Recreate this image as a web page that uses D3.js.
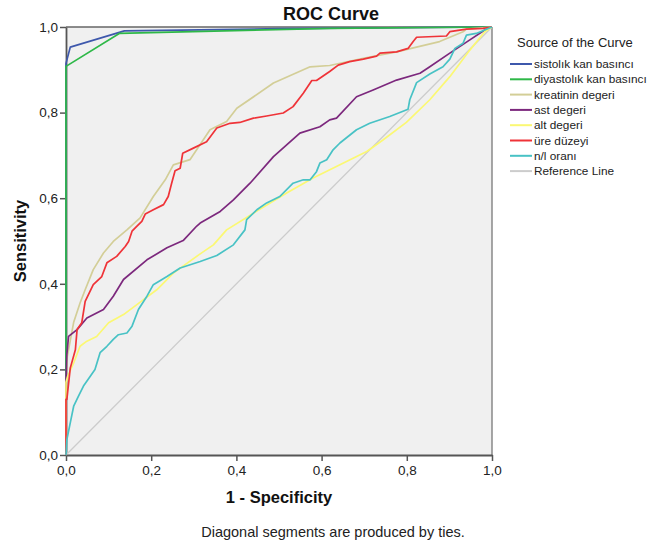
<!DOCTYPE html>
<html>
<head>
<meta charset="utf-8">
<script src="https://cdn.jsdelivr.net/npm/d3@7"></script>
<style>
  html, body { margin: 0; padding: 0; background: #fff; }
  svg { display: block; font-family: "Liberation Sans", Arial, sans-serif; }
</style>
</head>
<body>
<svg id="chart" width="662" height="546"></svg>
<script>
// ---- data ----
const seriesNames = ["sistolık kan basıncı", "diyastolık kan basıncı", "kreatinin degeri", "ast degeri", "alt degeri", "üre düzeyi", "n/l oranı", "Reference Line"];
const seriesColors = ["#3E58AC", "#2EB848", "#D3CE97", "#7C287D", "#FBF873", "#EF3338", "#48C2C5", "#CCCCCC"];

const sistolik = [[0,0],[0,0.915],[0.01,0.953],[0.137,0.991],[0.5,0.996],[1,1]];
const diyastolik = [[0,0],[0,0.908],[0.125,0.985],[0.62,0.997],[1,1]];
const kreatinin = [[0,0],[0,0.13],[0.003,0.23],[0.018,0.31],[0.033,0.355],[0.045,0.386],[0.064,0.433],[0.088,0.472],[0.111,0.499],[0.143,0.526],[0.174,0.554],[0.205,0.604],[0.233,0.643],[0.252,0.678],[0.291,0.69],[0.338,0.76],[0.377,0.779],[0.401,0.81],[0.487,0.869],[0.573,0.907],[0.619,0.91],[0.698,0.927],[0.776,0.942],[0.877,0.966],[0.932,0.989],[0.94,0.995],[1,1]];
const ast = [[0,0],[0,0.172],[0.002,0.235],[0.006,0.277],[0.026,0.293],[0.049,0.32],[0.088,0.34],[0.111,0.371],[0.135,0.41],[0.19,0.456],[0.237,0.484],[0.275,0.501],[0.307,0.535],[0.315,0.542],[0.362,0.569],[0.393,0.596],[0.432,0.635],[0.487,0.697],[0.549,0.752],[0.596,0.767],[0.619,0.783],[0.635,0.787],[0.682,0.837],[0.721,0.853],[0.776,0.876],[0.831,0.892],[0.854,0.907],[0.901,0.939],[0.948,0.97],[0.983,0.993],[1,1]];
const alt = [[0,0],[0,0.17],[0.004,0.184],[0.018,0.215],[0.033,0.254],[0.049,0.266],[0.072,0.277],[0.1,0.309],[0.135,0.328],[0.182,0.363],[0.213,0.386],[0.252,0.425],[0.315,0.47],[0.346,0.491],[0.377,0.526],[0.44,0.565],[0.518,0.612],[0.58,0.647],[0.643,0.678],[0.706,0.709],[0.744,0.736],[0.799,0.777],[0.854,0.83],[0.901,0.884],[0.948,0.946],[0.983,0.989],[1,1]];
const ure = [[0,0],[0,0.13],[0.002,0.13],[0.01,0.203],[0.022,0.246],[0.026,0.293],[0.037,0.309],[0.045,0.359],[0.064,0.398],[0.084,0.417],[0.096,0.449],[0.119,0.464],[0.139,0.487],[0.147,0.499],[0.155,0.523],[0.166,0.534],[0.178,0.546],[0.186,0.563],[0.205,0.573],[0.229,0.585],[0.24,0.604],[0.248,0.635],[0.256,0.664],[0.268,0.67],[0.274,0.705],[0.299,0.717],[0.33,0.732],[0.354,0.764],[0.385,0.775],[0.408,0.777],[0.44,0.787],[0.471,0.792],[0.51,0.799],[0.533,0.814],[0.557,0.845],[0.577,0.875],[0.588,0.875],[0.619,0.896],[0.639,0.911],[0.666,0.919],[0.698,0.925],[0.729,0.932],[0.737,0.939],[0.776,0.942],[0.803,0.95],[0.815,0.966],[0.823,0.976],[0.893,0.979],[0.901,0.989],[0.94,0.995],[0.979,0.997],[1,1]];
const nlOrani = [[0,0],[0.002,0.036],[0.01,0.075],[0.018,0.114],[0.029,0.137],[0.041,0.161],[0.057,0.184],[0.068,0.2],[0.08,0.239],[0.096,0.254],[0.111,0.27],[0.123,0.281],[0.143,0.285],[0.155,0.301],[0.17,0.34],[0.19,0.371],[0.205,0.398],[0.237,0.417],[0.268,0.437],[0.315,0.452],[0.354,0.466],[0.393,0.491],[0.42,0.526],[0.424,0.55],[0.448,0.573],[0.471,0.589],[0.502,0.604],[0.533,0.635],[0.557,0.643],[0.573,0.643],[0.588,0.662],[0.596,0.682],[0.612,0.69],[0.627,0.713],[0.643,0.729],[0.682,0.76],[0.713,0.775],[0.76,0.791],[0.803,0.808],[0.807,0.83],[0.823,0.87],[0.854,0.89],[0.885,0.907],[0.901,0.925],[0.913,0.95],[0.932,0.962],[0.94,0.981],[0.963,0.985],[0.983,0.993],[1,1]];
const referenceLine = [[0,0],[1,1]];

const tickValues = [0, 0.2, 0.4, 0.6, 0.8, 1.0];
const tickLabels = ["0,0", "0,2", "0,4", "0,6", "0,8", "1,0"];

const chartTitle = "ROC Curve";
const xTitle = "1 - Specificity";
const yTitle = "Sensitivity";
const legendTitle = "Source of the Curve";
const footnote = "Diagonal segments are produced by ties.";

// ---- layout ----
const svg = d3.select("#chart");
const plot = { left: 66, top: 27, width: 426, height: 428 };

const x = d3.scaleLinear().domain([0, 1]).range([plot.left, plot.left + plot.width]);
const y = d3.scaleLinear().domain([0, 1]).range([plot.top + plot.height, plot.top]);

// plot background
svg.append("rect")
  .attr("x", plot.left).attr("y", plot.top)
  .attr("width", plot.width).attr("height", plot.height)
  .attr("fill", "#F0F0F0");

// top / right frame
svg.append("line").attr("x1", x(0)).attr("x2", x(1)).attr("y1", y(1)).attr("y2", y(1))
  .attr("stroke", "#666").attr("stroke-width", 1.5);
svg.append("line").attr("x1", x(1)).attr("x2", x(1)).attr("y1", y(0)).attr("y2", y(1))
  .attr("stroke", "#888").attr("stroke-width", 1.5);

// axes
const fmt = d => tickLabels[tickValues.indexOf(d)];
const xAxis = svg.append("g").attr("transform", `translate(0,${y(0)})`)
  .call(d3.axisBottom(x).tickValues(tickValues).tickFormat(fmt).tickSizeInner(6).tickSizeOuter(0));
const yAxis = svg.append("g").attr("transform", `translate(${x(0)},0)`)
  .call(d3.axisLeft(y).tickValues(tickValues).tickFormat(fmt).tickSizeInner(6).tickSizeOuter(0));
[xAxis, yAxis].forEach(g => {
  g.select(".domain").attr("stroke", "#555").attr("stroke-width", 1.8);
  g.selectAll(".tick line").attr("stroke", "#555").attr("stroke-width", 1.5);
  g.selectAll(".tick text").attr("fill", "#222").style("font-size", "13.5px")
    .style("font-family", "'Liberation Sans', Arial, sans-serif");
});
xAxis.selectAll(".tick text").attr("dy", "0.85em");
yAxis.selectAll(".tick text").attr("x", -8);

// curves
const line = d3.line().x(d => x(d[0])).y(d => y(d[1]));
const allSeries = [referenceLine, sistolik, diyastolik, kreatinin, ast, alt, ure, nlOrani];
const allColors = [seriesColors[7], ...seriesColors.slice(0, 7)];
const g = svg.append("g");
allSeries.forEach((data, i) => {
  g.append("path")
    .datum(data)
    .attr("d", line)
    .attr("fill", "none")
    .attr("stroke", allColors[i])
    .attr("stroke-width", i === 0 ? 1.3 : 1.7)
    .attr("stroke-linejoin", "round");
});

// titles
svg.append("text").attr("x", 331).attr("y", 20).attr("text-anchor", "middle")
  .style("font-size", "18px").style("font-weight", "bold").attr("fill", "#111").text(chartTitle);
svg.append("text").attr("x", (x(0) + x(1)) / 2).attr("y", 503).attr("text-anchor", "middle")
  .style("font-size", "16.5px").style("font-weight", "bold").attr("fill", "#111").text(xTitle);
svg.append("text").attr("transform", `translate(26,${(y(0) + y(1)) / 2}) rotate(-90)`)
  .attr("text-anchor", "middle")
  .style("font-size", "16.5px").style("font-weight", "bold").attr("fill", "#111").text(yTitle);
svg.append("text").attr("x", 333).attr("y", 537).attr("text-anchor", "middle")
  .style("font-size", "14.5px").attr("fill", "#222").text(footnote);

// legend
svg.append("text").attr("x", 517).attr("y", 47)
  .style("font-size", "13px").attr("fill", "#222").text(legendTitle);
const leg = svg.append("g");
seriesNames.forEach((name, i) => {
  const cy = 64 + i * 15.3;
  leg.append("line").attr("x1", 510).attr("x2", 532).attr("y1", cy).attr("y2", cy)
    .attr("stroke", seriesColors[i]).attr("stroke-width", 2);
  leg.append("text").attr("x", 534).attr("y", cy + 4)
    .style("font-size", "11.8px").attr("fill", "#222").text(name);
});
</script>
</body>
</html>
